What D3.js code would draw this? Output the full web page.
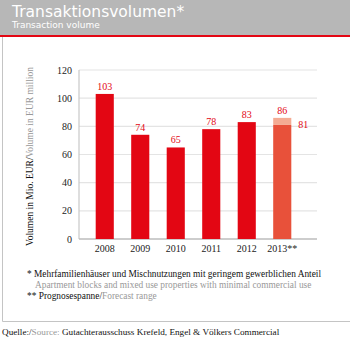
<!DOCTYPE html>
<html>
<head>
<meta charset="utf-8">
<script src="https://cdn.jsdelivr.net/npm/d3@7"></script>
<style>
  body { margin: 0; background: #fff; }
  svg { display: block; }
</style>
</head>
<body>
<div id="chart"></div>
<script>
// Transaktionsvolumen in Mio. EUR
const years = ["2008", "2009", "2010", "2011", "2012", "2013**"];
const volumes = [103, 74, 65, 78, 83, 81];
// Prognosespanne 2013: untere / obere Grenze
const forecastLow = 81;
const forecastHigh = 86;
const yTicks = [0, 20, 40, 60, 80, 100, 120];

const W = 350, H = 340;
const serif = "'Liberation Serif', 'Times New Roman', serif";
const sans = "'DejaVu Sans', 'Liberation Sans', sans-serif";
const red = "#e30613";

const svg = d3.select("#chart").append("svg")
  .attr("width", W)
  .attr("height", H);

svg.append("rect").attr("width", W).attr("height", H).attr("fill", "#fff");

// Kopfzeile
svg.append("rect")
  .attr("x", 0).attr("y", 0).attr("width", W).attr("height", 35)
  .attr("fill", "#b7b7b7");
svg.append("rect")
  .attr("x", 0).attr("y", 35).attr("width", W).attr("height", 2)
  .attr("fill", red);
svg.append("text")
  .attr("x", 12).attr("y", 17)
  .attr("fill", "#fff")
  .attr("font-family", sans)
  .attr("font-size", "15.5px")
  .text("Transaktionsvolumen*");
svg.append("text")
  .attr("x", 12).attr("y", 28)
  .attr("fill", "#fff")
  .attr("font-family", sans)
  .attr("font-size", "9px")
  .text("Transaction volume");

// Rahmen links und unten
svg.append("path")
  .attr("d", "M2.5,37 V321.5 H350")
  .attr("fill", "none")
  .attr("stroke", "#c4c4c4")
  .attr("stroke-width", 1);

const plotLeft = 79, plotRight = 317;

const x = d3.scaleBand()
  .domain(years)
  .range([87, 300])
  .paddingInner(0.49)
  .paddingOuter(0.245);

const y = d3.scaleLinear()
  .domain([0, 120])
  .range([239, 70]);

// Gitterlinien
svg.append("g")
  .selectAll("line")
  .data(yTicks.filter(d => d > 0))
  .join("line")
  .attr("x1", plotLeft).attr("x2", plotRight)
  .attr("y1", d => y(d)).attr("y2", d => y(d))
  .attr("stroke", "#e4e4e4")
  .attr("stroke-width", 1.2);

// Achsen
svg.append("line")
  .attr("x1", plotLeft).attr("x2", plotLeft)
  .attr("y1", y(120)).attr("y2", y(0))
  .attr("stroke", "#c8c8c8").attr("stroke-width", 1.2);
svg.append("line")
  .attr("x1", plotLeft).attr("x2", plotRight)
  .attr("y1", y(0)).attr("y2", y(0))
  .attr("stroke", "#bdbdbd").attr("stroke-width", 1.5);

svg.append("g")
  .selectAll("text")
  .data(yTicks)
  .join("text")
  .attr("x", 72)
  .attr("y", d => y(d) + 3.5)
  .attr("text-anchor", "end")
  .attr("fill", "#222")
  .attr("font-family", serif)
  .attr("font-size", "10px")
  .text(d => d);

svg.append("g")
  .selectAll("text")
  .data(years)
  .join("text")
  .attr("x", d => x(d) + x.bandwidth() / 2)
  .attr("y", 252)
  .attr("text-anchor", "middle")
  .attr("fill", "#222")
  .attr("font-family", serif)
  .attr("font-size", "10px")
  .text(d => d);

// Achsentitel
const yTitle = svg.append("text")
  .attr("transform", `translate(33,${(y(0) + y(120)) / 2 + 2}) rotate(-90)`)
  .attr("text-anchor", "middle")
  .attr("font-family", serif)
  .attr("font-size", "9.5px");
yTitle.append("tspan").attr("fill", "#111").text("Volumen in Mio. EUR/");
yTitle.append("tspan").attr("fill", "#999").text("Volume in EUR million");

// Balken
const last = years.length - 1;
svg.append("g")
  .selectAll("rect")
  .data(years)
  .join("rect")
  .attr("x", d => x(d))
  .attr("width", x.bandwidth())
  .attr("y", (d, i) => y(volumes[i]))
  .attr("height", (d, i) => y(0) - y(volumes[i]))
  .attr("fill", (d, i) => i === last ? "#e8513a" : red);

// Prognosespanne
svg.append("rect")
  .attr("x", x(years[last]))
  .attr("width", x.bandwidth())
  .attr("y", y(forecastHigh))
  .attr("height", y(forecastLow) - y(forecastHigh))
  .attr("fill", "#f4ab93");

// Werte
svg.append("g")
  .selectAll("text")
  .data(years)
  .join("text")
  .attr("x", d => x(d) + x.bandwidth() / 2)
  .attr("y", (d, i) => y(i === last ? forecastHigh : volumes[i]) - 4)
  .attr("text-anchor", "middle")
  .attr("fill", red)
  .attr("font-family", serif)
  .attr("font-size", "10px")
  .text((d, i) => i === last ? forecastHigh : volumes[i]);

svg.append("text")
  .attr("x", x(years[last]) + x.bandwidth() + 7)
  .attr("y", y(forecastLow) + 3.5)
  .attr("fill", red)
  .attr("font-family", serif)
  .attr("font-size", "10px")
  .text(forecastLow);

// Fußnoten
const notes = svg.append("g")
  .attr("font-family", serif)
  .attr("font-size", "9.35px");
notes.append("text")
  .attr("x", 27).attr("y", 277)
  .attr("fill", "#111")
  .text("* Mehrfamilienhäuser und Mischnutzungen mit geringem gewerblichen Anteil");
notes.append("text")
  .attr("x", 35).attr("y", 288)
  .attr("fill", "#999")
  .text("Apartment blocks and mixed use properties with minimal commercial use");
const n2 = notes.append("text")
  .attr("x", 27).attr("y", 299);
n2.append("tspan").attr("fill", "#111").text("** Prognosespanne/");
n2.append("tspan").attr("fill", "#999").text("Forecast range");

const src = svg.append("text")
  .attr("x", 2).attr("y", 335)
  .attr("font-family", serif)
  .attr("font-size", "9.2px");
src.append("tspan").attr("fill", "#111").text("Quelle:/");
src.append("tspan").attr("fill", "#999").text("Source: ");
src.append("tspan").attr("fill", "#111").text("Gutachterausschuss Krefeld, Engel & Völkers Commercial");
</script>
</body>
</html>
